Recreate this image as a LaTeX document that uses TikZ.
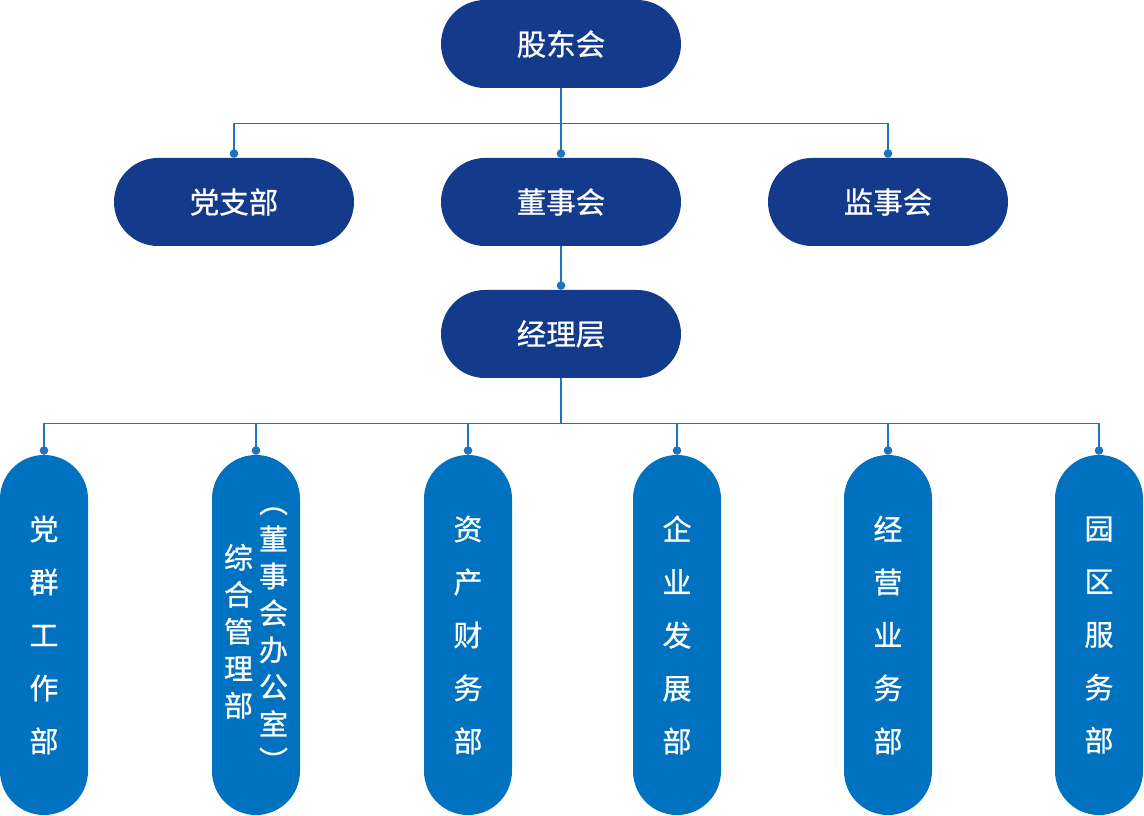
\documentclass[tikz,border=0pt]{standalone}
\usepackage{fontspec}
\setmainfont{Noto Sans CJK SC}[FakeBold=0.7]
\usetikzlibrary{positioning,arrows.meta,calc}
\definecolor{navy}{HTML}{143A8C}
\definecolor{deptblue}{HTML}{0072BF}
\definecolor{wire}{HTML}{1D76BD}

\begin{document}
\begin{tikzpicture}[x=1pt,y=1pt,on grid,
  board/.style={rectangle,rounded corners=44pt,fill=navy,text=white,
    minimum width=240pt,minimum height=88pt,inner sep=0pt,
    font=\fontsize{29.5}{34}\selectfont},
  dept/.style={rectangle,rounded corners=44pt,fill=deptblue,text=white,
    minimum width=88pt,minimum height=360pt,inner sep=0pt,align=center,
    font=\fontsize{29}{53}\selectfont},
  wire/.style={draw=wire,line width=1.2pt,-{Circle[length=8.5pt]}}]
\useasboundingbox (0,0) rectangle (1144,816);
\node[board] (gudong) at (561,772) {股东会};
\node[board] (dongshi) [below=158pt of gudong] {董事会};
\node[board] (dangzhi) [left=327pt of dongshi] {党支部};
\node[board] (jianshi) [right=327pt of dongshi] {监事会};
\node[board] (jingli) [below=132pt of dongshi] {经理层};
\node[dept] (d1) at (44,181) {党\\群\\工\\作\\部};
\node[dept] (d2) [right=212pt of d1] {%
  \fontsize{29}{37}\selectfont
  \begin{tabular}[c]{@{}c@{}}综\\合\\管\\理\\部\end{tabular}\hspace{6pt}%
  \begin{tabular}[c]{@{}c@{}}︵\\董\\事\\会\\办\\公\\室\\︶\end{tabular}};
\node[dept] (d3) [right=212pt of d2] {资\\产\\财\\务\\部};
\node[dept] (d4) [right=209pt of d3] {企\\业\\发\\展\\部};
\node[dept] (d5) [right=211pt of d4] {经\\营\\业\\务\\部};
\node[dept] (d6) [right=211pt of d5] {园\\区\\服\\务\\部};
% buses
\coordinate (bus1) at ($(gudong.south)+(0,-35)$);
\coordinate (bus2) at ($(jingli.south)+(0,-45)$);
\draw[wire] (gudong.south) -- (dongshi.north);
\draw[wire] (bus1) -| (dangzhi.north);
\draw[wire] (bus1) -| (jianshi.north);
\draw[wire] (dongshi.south) -- (jingli.north);
\draw[draw=wire,line width=1.2pt] (jingli.south) -- (bus2);
\foreach \d in {d1,d2,d3,d4,d5,d6}
  \draw[wire] (bus2) -| (\d.north);
\end{tikzpicture}
\end{document}
